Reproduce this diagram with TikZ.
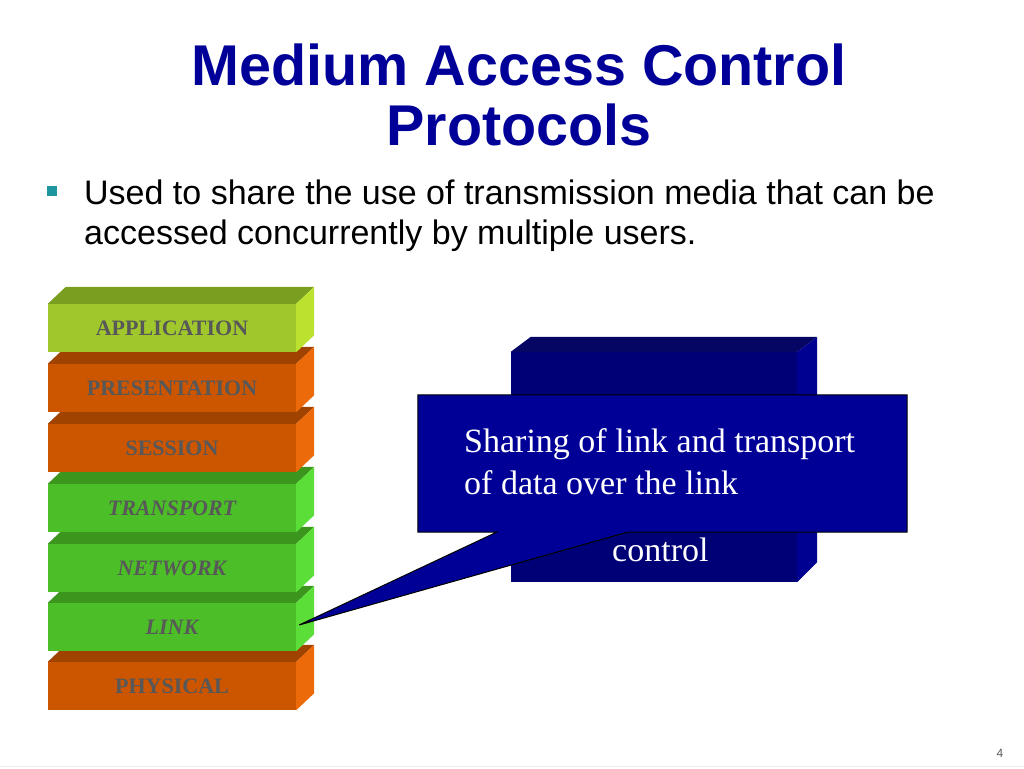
\documentclass[tikz,border=0pt]{standalone}
\usepackage{fontspec}
\setmainfont{Liberation Serif}
\newfontfamily\sansf{Liberation Sans}
\usetikzlibrary{calc}
\definecolor{titleblue}{RGB}{0,0,153}
\definecolor{bullteal}{RGB}{30,150,160}
\definecolor{labelgray}{RGB}{88,88,88}
\definecolor{appfront}{RGB}{160,200,45}
\definecolor{apptop}{RGB}{122,158,32}
\definecolor{appside}{RGB}{188,226,48}
\definecolor{orfront}{RGB}{204,85,0}
\definecolor{ortop}{RGB}{160,66,0}
\definecolor{orside}{RGB}{236,106,10}
\definecolor{grfront}{RGB}{76,190,40}
\definecolor{grtop}{RGB}{60,150,30}
\definecolor{grside}{RGB}{92,222,56}
\definecolor{boxfront}{RGB}{0,0,118}
\definecolor{boxtop}{RGB}{5,5,100}
\definecolor{boxside}{RGB}{0,0,145}
\definecolor{callblue}{RGB}{0,0,150}
\tikzset{
  layerbox/.style={minimum width=248pt, minimum height=48pt, inner sep=0pt, text=labelgray,
    font=\fontsize{22}{24}\selectfont\bfseries},
  titletext/.style={font=\sansf\bfseries\fontsize{57.5}{61}\selectfont, text=titleblue, anchor=base, inner sep=0pt},
  bullettext/.style={font=\sansf\fontsize{34}{40}\selectfont, text=black, anchor=base west, inner sep=0pt},
  calltext/.style={font=\fontsize{34}{40}\selectfont, text=white, anchor=base west, inner sep=0pt},
}
\newcommand\osilayer[6]{%
  \node[layerbox, fill=#3] (#1) at (172,#2) {\raisebox{-2pt}{#6}};
  \fill[#4] (#1.north west) -- ++(18,-17) -- ($(#1.north east)+(18,-17)$) -- (#1.north east) -- cycle;
  \fill[#5] (#1.north east) -- ++(18,-17) -- ($(#1.south east)+(18,-17)$) -- (#1.south east) -- cycle;
}
\begin{document}
\begin{tikzpicture}[x=1pt,y=-1pt]
\useasboundingbox[fill=white] (0,0) rectangle (1024,768);
% title
\node[titletext] (t1) at (519,85) {Medium Access Control};
\node[titletext] (t2) at (519,145) {Protocols};
% bullet
\node[fill=bullteal, minimum size=10pt, inner sep=0pt] (bul) at (52,191) {};
\node[bullettext] (b1) at (84,204) {Used to share the use of transmission media that can be};
\node[bullettext] (b2) at (84,244) {accessed concurrently by multiple users.};
% OSI stack, drawn bottom to top
\osilayer{phy}{686}{orfront}{ortop}{orside}{PHYSICAL}
\osilayer{link}{627}{grfront}{grtop}{grside}{\itshape LINK}
\osilayer{net}{568}{grfront}{grtop}{grside}{\itshape NETWORK}
\osilayer{trans}{508}{grfront}{grtop}{grside}{\itshape TRANSPORT}
\osilayer{sess}{448}{orfront}{ortop}{orside}{SESSION}
\osilayer{pres}{388}{orfront}{ortop}{orside}{PRESENTATION}
\osilayer{app}{328}{appfront}{apptop}{appside}{APPLICATION}
% MAC box
\node[fill=boxfront, minimum width=286pt, minimum height=230pt, inner sep=0pt] (mac) at (654,467) {};
\fill[boxtop] (mac.north west) -- ++(20,-15) -- ($(mac.north east)+(20,-15)$) -- (mac.north east) -- cycle;
\fill[boxside] (mac.north east) -- ++(20,-15) -- ($(mac.south east)+(20,-20)$) -- (mac.south east) -- cycle;
\node[calltext] (ctl) at (612,561) {control};
% callout
\node[minimum width=489pt, minimum height=137pt, inner sep=0pt] (callout) at (662.5,463.5) {};
\coordinate (tip) at ($(link.east)+(3,-2)$);
\draw[fill=callblue, draw=black, line width=1pt]
  (callout.north west) -- (callout.north east) -- (callout.south east) -- (628,532)
  -- (tip) -- (497,532) -- (callout.south west) -- cycle;
\node[calltext] (c1) at (464,452) {Sharing of link and transport};
\node[calltext] (c2) at (464,494) {of data over the link};
% footer
\draw[black!8, line width=1pt] (0,766) -- (1024,766);
\node[font=\sansf\fontsize{12}{14}\selectfont, text=black!65, anchor=base] (pg) at (1000,757) {4};
\end{tikzpicture}
\end{document}
